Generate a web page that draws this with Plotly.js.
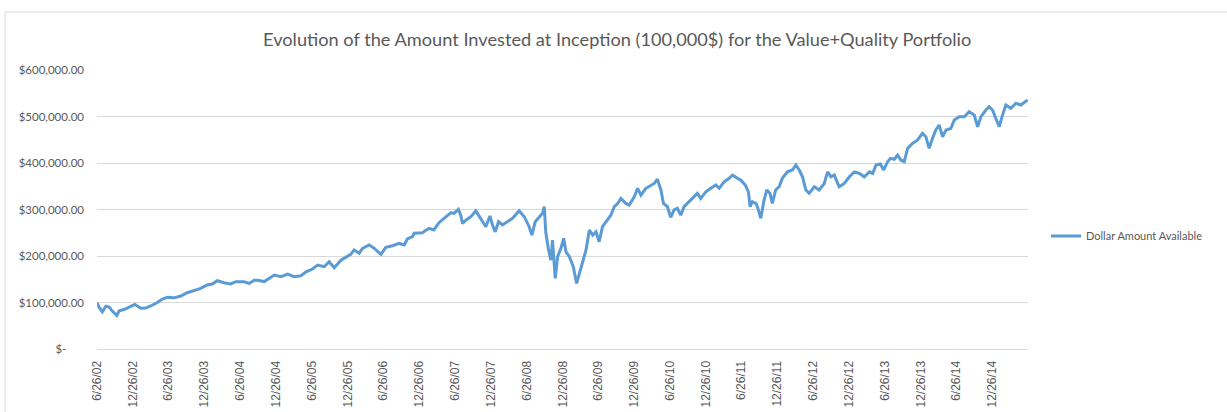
<!DOCTYPE html>
<html>
<head>
<meta charset="utf-8">
<script src="https://cdn.plot.ly/plotly-3.0.1.min.js"></script>
<style>html,body{margin:0;padding:0;background:#fff;}#chart{width:1227px;height:412px;}</style>
</head>
<body>
<div id="chart"></div>
<script>
const seriesName = "Dollar Amount Available";
const titleText = "Evolution of the Amount Invested at Inception (100,000$) for the Value+Quality Portfolio";

const dates = [
"2002-06-26","2002-07-05","2002-07-23","2002-08-10","2002-08-27","2002-09-11","2002-10-05","2002-10-17","2002-11-11","2002-12-07",
"2003-01-05","2003-02-04","2003-03-01","2003-03-27","2003-04-30","2003-05-25","2003-06-20","2003-07-24","2003-08-27","2003-09-29",
"2003-11-02","2003-12-07","2004-01-09","2004-02-03","2004-03-01","2004-04-03","2004-05-08","2004-06-03","2004-07-15","2004-08-10",
"2004-09-05","2004-09-22","2004-10-26","2004-12-16","2005-01-19","2005-02-22","2005-03-28","2005-05-01","2005-05-27","2005-06-29",
"2005-07-25","2005-08-28","2005-09-22","2005-10-18","2005-11-21","2005-12-17","2006-01-10","2006-01-27","2006-02-22","2006-03-11",
"2006-04-14","2006-05-10","2006-06-13","2006-07-08","2006-08-11","2006-09-14","2006-10-10","2006-10-26","2006-11-21","2006-11-30",
"2007-01-10","2007-02-13","2007-03-10","2007-04-05","2007-05-09","2007-06-04","2007-06-21","2007-07-13","2007-07-25","2007-08-03",
"2007-08-20","2007-09-15","2007-10-10","2007-10-27","2007-11-13","2007-11-30","2007-12-21","2008-01-03","2008-01-17","2008-02-03",
"2008-02-23","2008-03-19","2008-04-14","2008-05-18","2008-06-13","2008-07-08","2008-07-22","2008-08-08","2008-08-28","2008-09-14",
"2008-09-23","2008-10-01","2008-10-15","2008-10-27","2008-11-04","2008-11-18","2008-11-30","2008-12-17","2008-12-31","2009-01-12",
"2009-01-29","2009-02-18","2009-03-07","2009-03-21","2009-04-07","2009-04-24","2009-05-11","2009-05-28","2009-06-14","2009-06-30",
"2009-07-17","2009-08-12","2009-08-29","2009-09-15","2009-10-02","2009-10-19","2009-11-13","2009-11-30","2009-12-26","2010-01-12",
"2010-01-29","2010-02-23","2010-03-21","2010-04-07","2010-04-23","2010-05-11","2010-05-24","2010-06-13","2010-06-30","2010-07-17",
"2010-08-03","2010-08-20","2010-09-06","2010-10-02","2010-10-27","2010-11-13","2010-11-30","2010-12-26","2011-01-20","2011-02-15",
"2011-03-04","2011-03-30","2011-04-24","2011-05-11","2011-06-06","2011-06-23","2011-07-15","2011-07-31","2011-08-09","2011-08-20",
"2011-09-07","2011-09-15","2011-10-02","2011-10-19","2011-11-02","2011-11-18","2011-11-30","2011-12-17","2012-01-04","2012-01-20",
"2012-02-15","2012-03-12","2012-03-29","2012-04-15","2012-05-02","2012-05-19","2012-06-05","2012-07-01","2012-07-26","2012-08-21",
"2012-09-07","2012-09-24","2012-10-11","2012-11-05","2012-12-01","2012-12-27","2013-01-21","2013-02-16","2013-03-13","2013-04-08",
"2013-04-25","2013-05-12","2013-06-03","2013-06-20","2013-07-10","2013-07-24","2013-08-13","2013-08-30","2013-09-16","2013-10-03",
"2013-10-20","2013-11-14","2013-12-10","2014-01-04","2014-01-21","2014-02-07","2014-02-24","2014-03-13","2014-03-30","2014-04-16",
"2014-05-04","2014-05-29","2014-06-15","2014-07-10","2014-08-05","2014-08-30","2014-09-25","2014-10-12","2014-10-29","2014-11-23",
"2014-12-10","2014-12-27","2015-01-13","2015-01-30","2015-02-16","2015-03-05","2015-03-31","2015-04-25","2015-05-21","2015-06-07",
"2015-06-24"
];

const amounts = [
100000,91000,80000,92000,90000,82000,72000,82000,85000,91000,
96000,87500,88000,92500,100000,107500,111000,110000,114000,121000,
125000,130500,137600,139800,147000,142600,139800,144700,144700,141000,
148000,148000,145000,159000,155500,161000,155500,157600,166000,172000,
180600,177000,187700,175000,191000,198500,203600,213000,205800,216500,
223700,216500,203600,218700,222000,227000,223700,236600,241500,248800,
250000,259500,256000,271600,284500,293000,291800,300400,288000,270000,
277000,284500,297000,286000,273800,263000,286000,266700,252000,273800,
266700,273800,281000,297400,284500,263000,245000,273800,284500,291800,
306000,250000,213000,191000,234000,152000,198500,216500,238000,209000,
198500,177000,141000,162800,187700,213000,256000,245000,252000,230800,
263000,277400,288000,306000,313000,324000,313000,309700,327500,345600,
331000,345600,352700,356000,365000,342000,313000,306000,283000,299000,
302600,288000,306000,316800,327500,334800,324000,338000,345600,352700,
345600,359800,367000,374000,367000,363000,352700,338000,306000,316800,
313000,306000,281000,320000,342000,335000,313000,342000,349000,367000,
381000,385000,395700,385000,370500,342000,334800,349000,342000,356000,
381000,370500,374000,349000,356000,370500,381000,377600,370500,381000,
377600,395700,397800,385000,402800,410000,408000,417000,406000,402800,
431600,442000,449500,463900,456600,431600,453000,471000,481700,456600,
471000,474600,492500,499600,499600,510400,503000,478000,499600,514000,
521000,514000,496000,478000,503000,524700,517600,528400,524700,529700,
535500
];

const tickDates = ["2002-06-26","2002-12-26","2003-06-26","2003-12-26","2004-06-26","2004-12-26","2005-06-26","2005-12-26",
"2006-06-26","2006-12-26","2007-06-26","2007-12-26","2008-06-26","2008-12-26","2009-06-26","2009-12-26",
"2010-06-26","2010-12-26","2011-06-26","2011-12-26","2012-06-26","2012-12-26","2013-06-26","2013-12-26",
"2014-06-26","2014-12-26"];
const tickLabels = ["6/26/02","12/26/02","6/26/03","12/26/03","6/26/04","12/26/04","6/26/05","12/26/05",
"6/26/06","12/26/06","6/26/07","12/26/07","6/26/08","12/26/08","6/26/09","12/26/09",
"6/26/10","12/26/10","6/26/11","12/26/11","6/26/12","12/26/12","6/26/13","12/26/13",
"6/26/14","12/26/14"];
const yTickVals = [0,100000,200000,300000,400000,500000,600000];
const yTickLabels = ["$-\u00a0\u00a0\u00a0\u00a0\u00a0\u00a0","$100,000.00","$200,000.00","$300,000.00","$400,000.00","$500,000.00","$600,000.00"];

const trace = {
  x: dates, y: amounts, type: "scatter", mode: "lines", name: seriesName,
  line: {color: "#5B9BD5", width: 3}
};

const W = 1227, H = 412, L = 97, R = 199, T = 70, B = 63;
const pw = W - L - R, ph = H - T - B;
const px = v => (v - L) / pw;
const py = v => (H - B - v) / ph;

const layout = {
  width: W, height: H,
  margin: {l: L, r: R, t: T, b: B, pad: 0},
  paper_bgcolor: "#ffffff", plot_bgcolor: "#ffffff",
  font: {family: "Lato, 'Open Sans', sans-serif", color: "#595959", size: 11},
  title: {text: titleText, font: {family: "Lato, 'Open Sans', sans-serif", size: 18.2, color: "#595959"},
          xref: "container", x: 0.503, xanchor: "center", yref: "container", y: 1 - 40/412, yanchor: "middle"},
  showlegend: true,
  legend: {x: px(1046), xanchor: "left", y: py(236), yanchor: "middle", font: {family: "Lato, sans-serif", size: 11, color: "#595959"},
           bgcolor: "rgba(0,0,0,0)", itemwidth: 30},
  xaxis: {
    type: "date", range: ["2002-06-26", "2015-06-26"],
    tickmode: "array", tickvals: tickDates, ticktext: tickLabels, tickangle: -90,
    tickfont: {family: "'Liberation Sans', Arial, sans-serif", size: 12, color: "#595959"},
    showgrid: false, zeroline: false, showline: true, linecolor: "#D9D9D9", linewidth: 1,
    ticks: "", ticklabelstandoff: 6
  },
  yaxis: {
    range: [0, 600000], tickmode: "array", tickvals: yTickVals, ticktext: yTickLabels,
    tickfont: {family: "Lato, sans-serif", size: 11.5, color: "#595959"},
    showgrid: true, gridcolor: "#D9D9D9", gridwidth: 1, zeroline: false, showline: false,
    ticks: "", ticklabelstandoff: 12
  },
  shapes: [
    {type: "line", xref: "paper", yref: "paper", x0: px(5), x1: px(5), y0: py(12), y1: py(412), line: {color: "#D9D9D9", width: 1}},
    {type: "line", xref: "paper", yref: "paper", x0: px(5), x1: px(1227), y0: py(12), y1: py(12), line: {color: "#D9D9D9", width: 1}}
  ]
};

Plotly.newPlot("chart", [trace], layout, {displayModeBar: false, staticPlot: true});
</script>
</body>
</html>
